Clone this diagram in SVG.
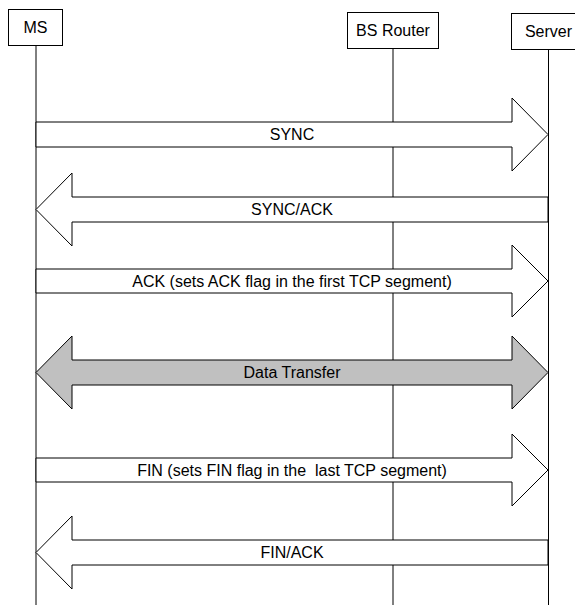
<svg xmlns="http://www.w3.org/2000/svg" width="575" height="606" viewBox="0 0 575 606">
<style>
.box{fill:#fff;stroke:#000;stroke-width:1}
.life{stroke:#000;stroke-width:1}
.arr{fill:#fff;stroke:#000;stroke-width:1;stroke-linejoin:miter}
.grey{fill:#c0c0c0}
text{font-family:"Liberation Sans",Arial,sans-serif;font-size:16px;fill:#000;text-anchor:middle}
</style>
<rect width="575" height="606" fill="#fff"/>
<g id="lifelines">
<line class="life" x1="36" y1="46" x2="36" y2="605"/>
<line class="life" x1="393" y1="49" x2="393" y2="605"/>
<line class="life" x1="548.5" y1="50" x2="548.5" y2="605"/>
</g>
<g id="node-ms">
<rect class="box" x="8.5" y="9.5" width="54" height="36"/>
<text x="35.5" y="33">MS</text>
</g>
<g id="node-bsrouter">
<rect class="box" x="347.5" y="12.5" width="91" height="36"/>
<text x="393" y="36">BS Router</text>
</g>
<g id="node-server">
<rect class="box" x="511.5" y="13.5" width="70" height="36"/>
<text x="548.5" y="37">Server</text>
</g>
<g id="connectors">
<g id="msg-sync">
<polygon class="arr" points="36,122 512,122 512,98 548,134.5 512,171 512,147 36,147"/>
<text x="292" y="140">SYNC</text>
</g>
<g id="msg-syncack">
<polygon class="arr" points="548,197 72,197 72,173 36,209.5 72,246 72,222 548,222"/>
<text x="292" y="215">SYNC/ACK</text>
</g>
<g id="msg-ack">
<polygon class="arr" points="36,269 512,269 512,245 548,281 512,317 512,293 36,293"/>
<text x="292" y="286.5">ACK (sets ACK flag in the first TCP segment)</text>
</g>
<g id="msg-data">
<polygon class="arr grey" points="72,360 512,360 512,336 548,372.5 512,409 512,385 72,385 72,409 36,372.5 72,336"/>
<text x="292" y="378">Data Transfer</text>
</g>
<g id="msg-fin">
<polygon class="arr" points="36,458 512,458 512,434 548,470 512,506 512,482 36,482"/>
<text x="292" y="475.5" xml:space="preserve">FIN (sets FIN flag in the  last TCP segment)</text>
</g>
<g id="msg-finack">
<polygon class="arr" points="548,540 72,540 72,516 36,552.5 72,589 72,565 548,565"/>
<text x="292" y="558">FIN/ACK</text>
</g>
</g>
</svg>
